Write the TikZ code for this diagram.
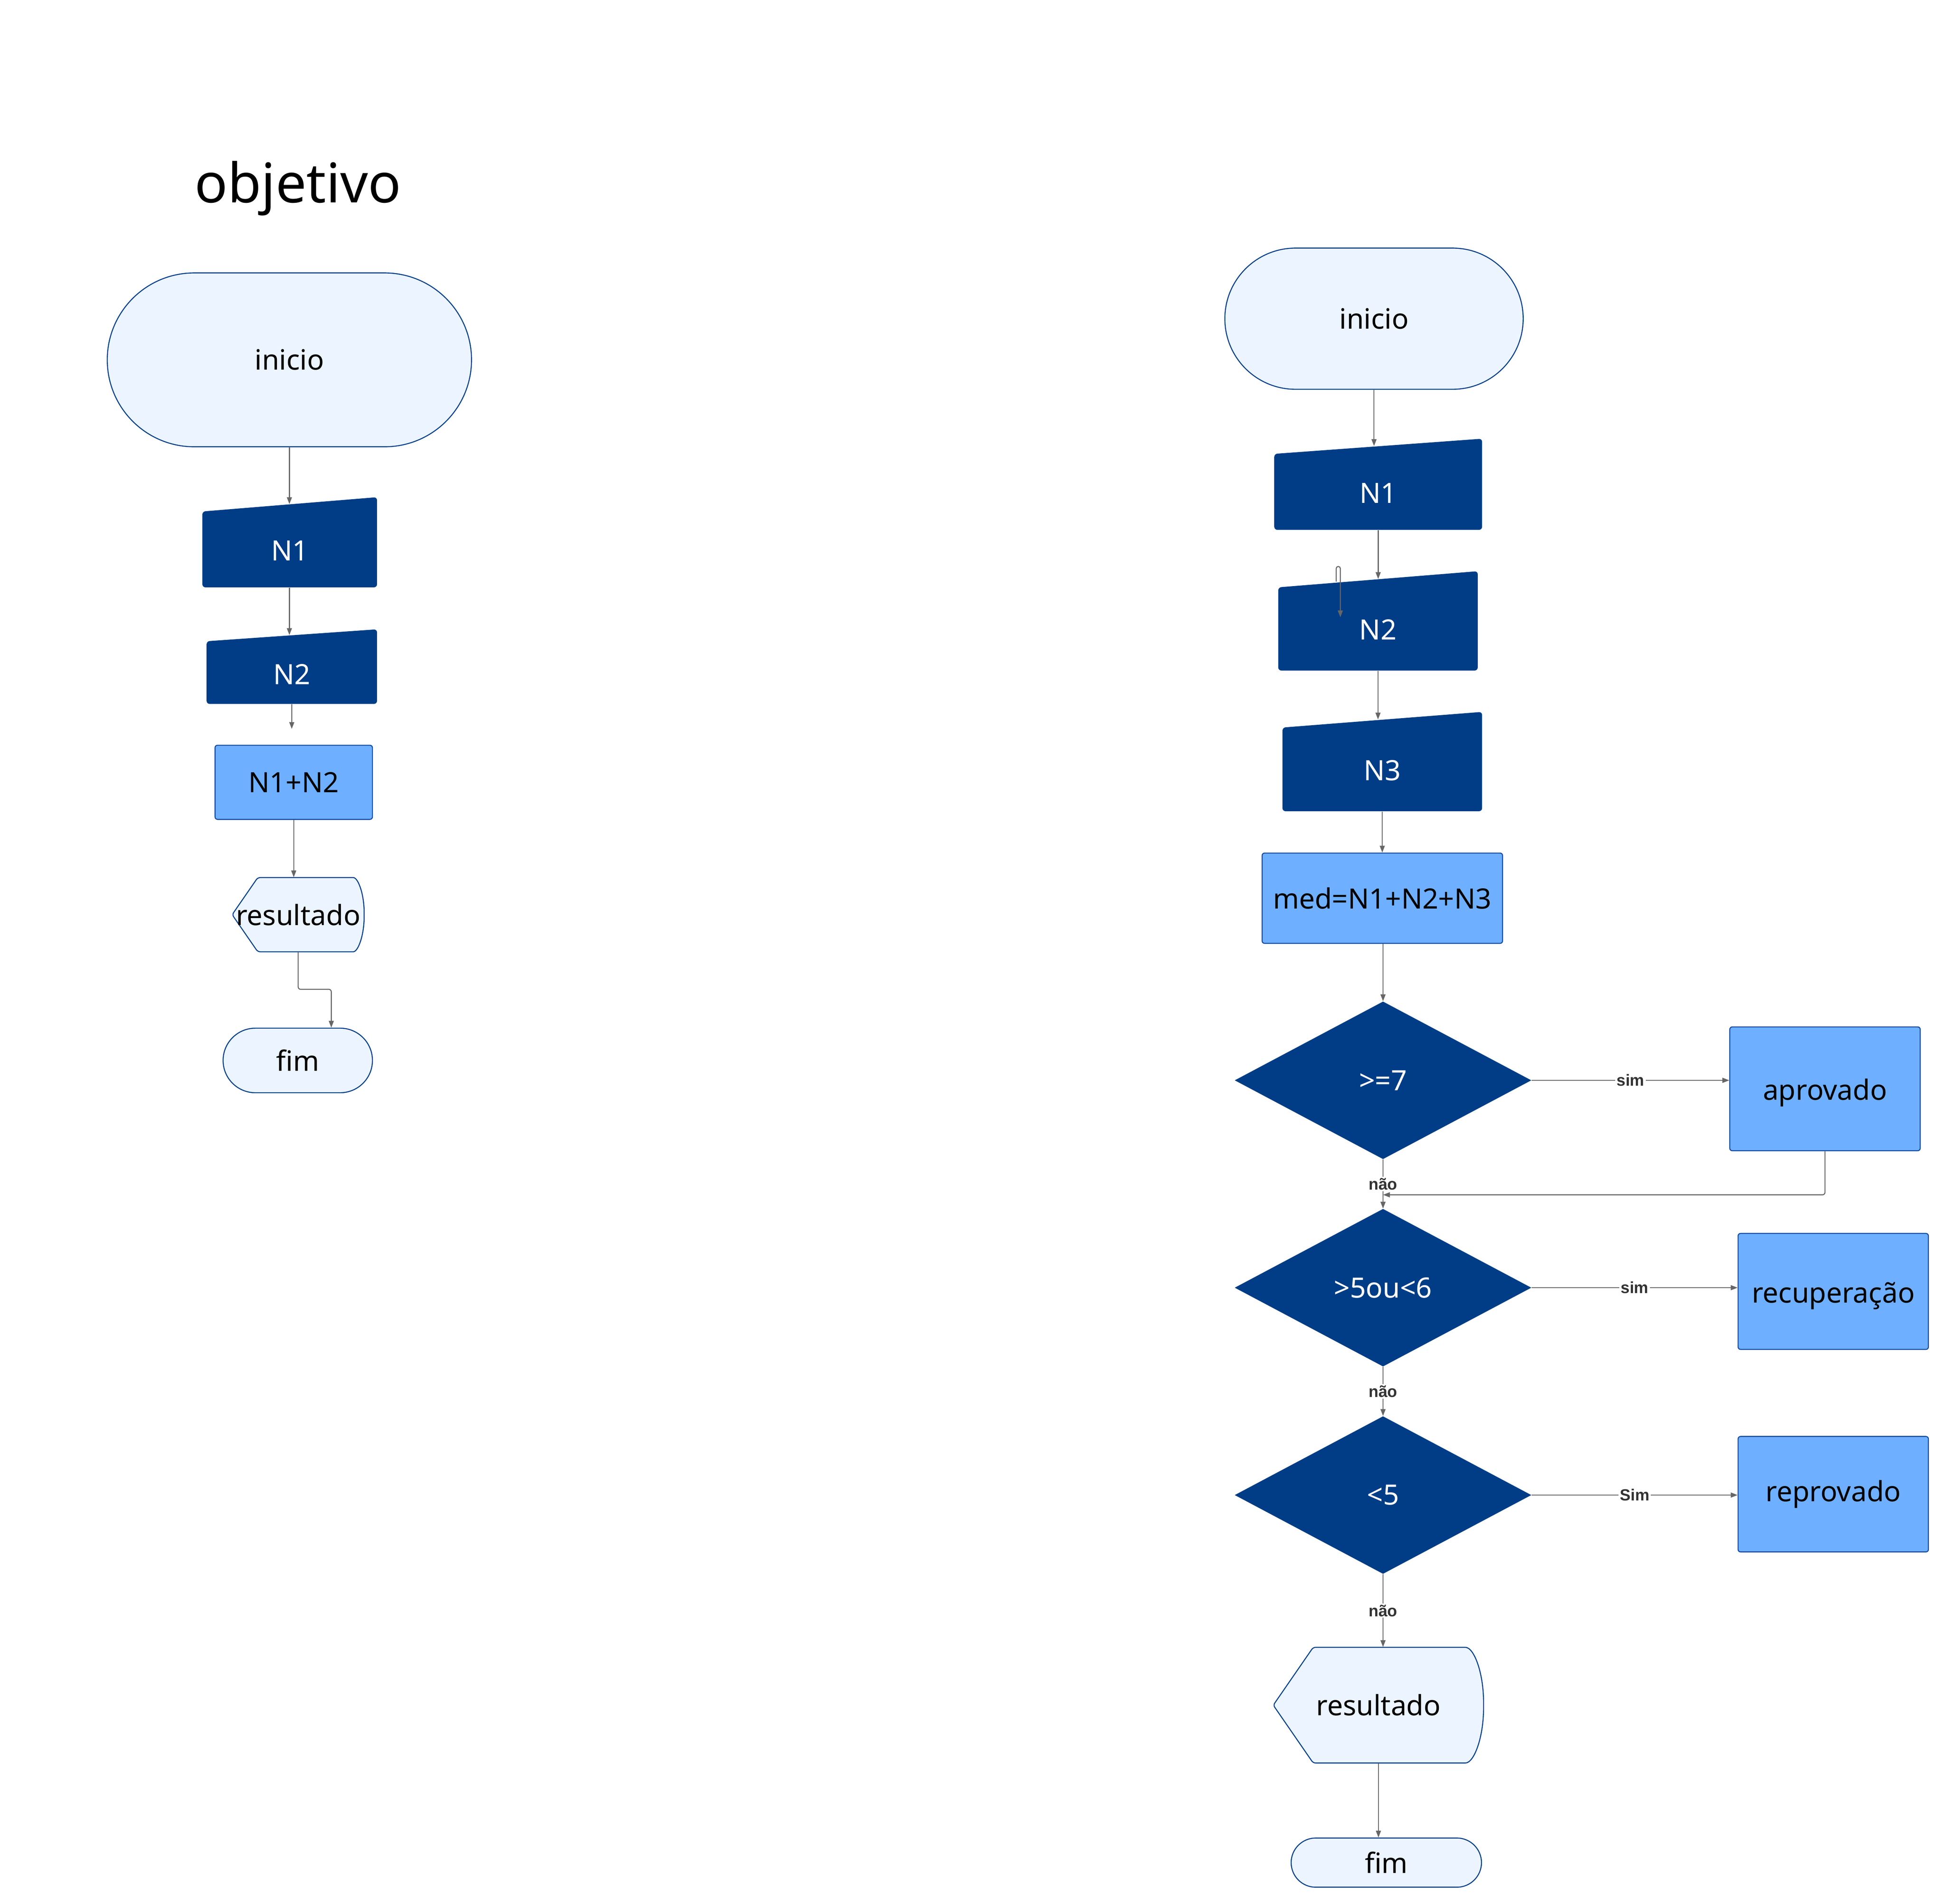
\documentclass[tikz,border=0pt]{standalone}
\usepackage{fontspec}
\setmainfont{Noto Sans}
\newfontfamily\lblfont{Liberation Sans}
\usetikzlibrary{shapes.geometric,arrows.meta,calc}
\definecolor{darkf}{RGB}{0,61,134}
\definecolor{lightf}{RGB}{236,245,255}
\definecolor{procf}{RGB}{110,176,255}
\definecolor{bdr}{RGB}{0,63,138}
\definecolor{procb}{RGB}{20,75,160}
\definecolor{arrc}{RGB}{102,102,102}
\definecolor{lblc}{RGB}{51,51,51}
\tikzset{
  base/.style={font=\fontsize{22.5}{27}\selectfont, inner sep=0pt},
  term/.style={base, draw=bdr, line width=0.8pt, fill=lightf, text=black},
  proc/.style={base, draw=procb, line width=0.8pt, fill=procf, text=black, rounded corners=2pt},
  dec/.style={base, diamond, fill=darkf, text=white, minimum width=239pt, minimum height=127pt},
  mitext/.style={base, text=white, text height=24pt, text depth=0pt},
  arr/.style={draw=arrc, line width=0.8pt, -{Triangle[length=5.5pt,width=4pt]}},
  lbl/.style={fill=white, inner sep=1pt, text=lblc, font=\lblfont\bfseries\fontsize{13}{15}\selectfont},
}
% manual input: name, xl, xr, y top-left, y top-right, y bottom, text
\newcommand\maninput[7]{%
  \fill[darkf, rounded corners=2.5pt] (#2,#4) -- (#3,#5) -- (#3,#6) -- (#2,#6) -- cycle;
  \pgfmathsetmacro\miTop{(#4+#5)/2}
  \node[mitext, minimum width={(#3-#2)*1pt}, minimum height={(#6-\miTop)*1pt}] (#1) at ({(#2+#3)/2},{(\miTop+#6)/2}) {#7};
}
% display: name, xl, xr, y top, y bottom, text
\newcommand\dispnode[6]{%
  \pgfmathsetmacro\rsH{#5-#4}
  \pgfmathsetmacro\rsD{0.345*\rsH}
  \pgfmathsetmacro\rsB{0.18*\rsH}
  \pgfmathsetmacro\rsM{(#4+#5)/2}
  \filldraw[draw=bdr, fill=lightf, line width=0.8pt, rounded corners=2pt]
    ({#3-\rsB},#4) .. controls ({#3-0.45*\rsB},#4) and (#3,{\rsM-0.552*\rsH/2}) .. (#3,\rsM)
    .. controls (#3,{\rsM+0.552*\rsH/2}) and ({#3-0.45*\rsB},#5) .. ({#3-\rsB},#5)
    -- ({#2+\rsD},#5) -- (#2,\rsM) -- ({#2+\rsD},#4) -- cycle;
  \node[base, minimum width={(#3-#2)*1pt}, minimum height={\rsH*1pt}] (#1) at ({(#2+#3)/2},\rsM) {#6};
}
\begin{document}
\begin{tikzpicture}[x=1pt,y=-1pt]
\useasboundingbox (0,0) rectangle (1566.67,1533.33);

% ---------------- left flow ----------------
\node[font=\fontsize{44}{52}\selectfont, anchor=base, inner sep=0pt] (title) at (240,163) {objetivo};
\node[term, minimum width=293.4pt, minimum height=140pt, rounded corners=70pt] (il) at (233.1,289.8) {inicio};
\maninput{n1l}{163}{303.7}{411.9}{400.4}{473}{N1}
\maninput{n2l}{166.4}{303.7}{516.4}{506.8}{566.9}{N2}
\coordinate (c1) at (235,587);
\node[proc, minimum width=126.8pt, minimum height=59.7pt] (pl) at (236.6,630) {N1+N2};
\dispnode{rl}{187}{293.3}{706.7}{766.5}{resultado}
\node[term, minimum width=120.3pt, minimum height=52pt, rounded corners=26pt] (fl) at (239.85,854) {fim};

\draw[arr] (il.south) -- (il.south |- n1l.north);
\draw[arr] (n1l.south -| il.south) -- (il.south |- n2l.north);
\draw[arr] (n2l.south) -- (c1);
\draw[arr] (pl.south) -- (pl.south |- rl.north);
\draw[arr, rounded corners=2pt] (rl.south) -- ++(0,30) -| ([xshift=27pt]fl.north);

% ---------------- right flow ----------------
\node[term, minimum width=240.3pt, minimum height=113.7pt, rounded corners=56.85pt] (ir) at (1106.75,256.65) {inicio};
\maninput{n1r}{1026.4}{1193.8}{365.5}{353.3}{426.7}{N1}
\maninput{n2r}{1029.6}{1190.3}{473}{460}{540}{N2}
\maninput{n3r}{1033}{1193.8}{585.9}{573.3}{653.3}{N3}
\node[proc, minimum width=193.7pt, minimum height=72.7pt] (med) at (1113.45,723.35) {med=N1+N2+N3};
\node[dec] (d1) at (1114,870) {>=7};
\node[dec] (d2) at (1114,1037) {>5ou<6};
\node[dec] (d3) at (1114,1204) {<5};
\node[proc, minimum width=153.4pt, minimum height=99.7pt, text height=18pt, text depth=0pt] (ap) at (1470,876.85) {aprovado};
\node[proc, minimum width=153.3pt, minimum height=93.4pt, text height=18pt, text depth=0pt] (rec) at (1476.65,1040) {recuperação};
\node[proc, minimum width=153.3pt, minimum height=93pt] (rep) at (1476.65,1203.3) {reprovado};
\dispnode{rr}{1025.6}{1195}{1326.6}{1419.8}{resultado}
\node[term, minimum width=153.3pt, minimum height=39.6pt, rounded corners=19.8pt] (fr) at (1116.65,1500) {fim};

\coordinate (j1) at (1114,962.2);
\coordinate (h1) at (1076.3,468.4);
\coordinate (h2) at (1079.6,497.1);

\draw[arr] (ir.south) -- (ir.south |- n1r.north);
\draw[arr] (n1r.south) -- (n1r.south |- n2r.north);
\draw[arr, rounded corners=1.6pt] (h1) -- (1076.3,456.2) -- (1079.6,456.2) -- (h2);
\draw[arr] (n2r.south) -- (n2r.south |- n3r.north);
\draw[arr] (n3r.south) -- (n3r.south |- med.north);
\draw[arr] (med.south -| d1.north) -- (d1.north);
\draw[arr] (d1.east) -- (d1.east -| ap.west) node[lbl, pos=0.5] {sim};
\draw[arr, rounded corners=2pt] (ap.south) |- (j1);
\draw[arr] (d1.south) -- (d2.north) node[lbl, pos=0.5] {não};
\draw[arr] (d2.east) -- (d2.east -| rec.west) node[lbl, pos=0.5] {sim};
\draw[arr] (d2.south) -- (d3.north) node[lbl, pos=0.5] {não};
\draw[arr] (d3.east) -- (d3.east -| rep.west) node[lbl, pos=0.5] {Sim};
\draw[arr] (d3.south) -- (d3.south |- rr.north) node[lbl, pos=0.5] {não};
\draw[arr] (rr.south) -- (rr.south |- fr.north);
\end{tikzpicture}
\end{document}
